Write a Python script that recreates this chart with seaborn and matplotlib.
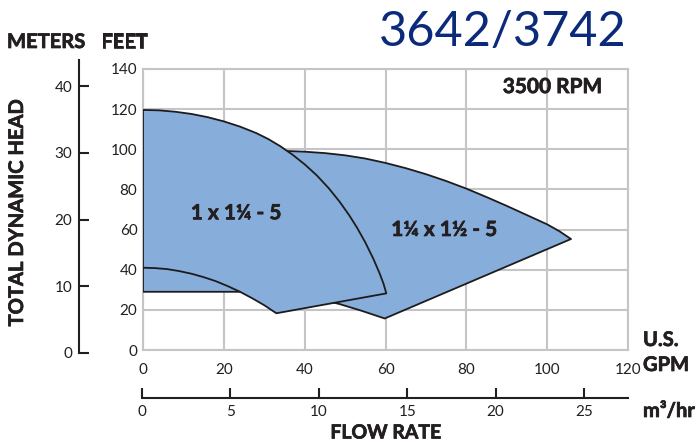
import matplotlib
matplotlib.use("Agg")
import matplotlib.pyplot as plt
import matplotlib.patheffects as pe
import seaborn as sns
import pandas as pd

# ---------------- data ----------------
gpm_ticks = [0, 20, 40, 60, 80, 100, 120]
feet_ticks = [0, 20, 40, 60, 80, 100, 120, 140]
meter_ticks = [0, 10, 20, 30, 40]
m3hr_ticks = [0, 5, 10, 15, 20, 25]

# 1 x 1 1/4 - 5 : max impeller curve (GPM, feet)
s1_top_q = [0, 4, 8, 12, 16, 20, 24, 28, 31, 34, 37, 40, 43, 46, 48.6,
            51, 53, 55, 57, 58.5, 59.5, 60.2]
s1_top_h = [119.6, 119.4, 118.7, 117.6, 116.0, 113.9, 111.3, 108.1, 105.1,
            101.5, 97.3, 92.5, 87.0, 80.5, 74.0, 67.2, 60.8, 53.6, 45.4,
            38.4, 33.1, 28.2]
# lower boundary (from end of max curve back to the left axis)
s1_low_q = [33.0, 30, 27, 24.0, 0]
s1_low_h = [18.3, 22.3, 25.8, 29.0, 29.0]
# min impeller curve (interior part)
s1_min_q = [24.0, 21, 18, 15, 12, 9, 6, 3, 0]
s1_min_h = [29.0, 31.8, 34.3, 36.3, 38.0, 39.3, 40.3, 40.8, 41.0]

# 1 1/4 x 1 1/2 - 5
s2_top_q = [30, 35, 40, 45, 50, 55, 60, 65, 70, 75, 80, 85, 90, 95, 100,
            103, 105.9]
s2_top_h = [99.3, 99.2, 98.8, 98.1, 97.0, 95.4, 93.2, 90.6, 87.6, 84.2,
            80.4, 76.2, 71.8, 67.2, 62.6, 59.2, 55.3]
s2_low_q = [59.8, 54, 48.6, 44, 40]
s2_low_h = [15.7, 19.6, 22.9, 25.2, 27.0]

labels = ["1 x 1\u00bc - 5", "1\u00bc x 1\u00bd - 5"]
label_q = [23.1, 74.6]
label_h = [68.1, 59.8]

# ---------------- style ----------------
sns.set_theme(style="white")
plt.rcParams["font.family"] = ["Lato", "DejaVu Sans"]

W, H = 697, 443
fig = plt.figure(figsize=(W / 100, H / 100), dpi=100)

def fx(px):
    return px / W

def fy(py):
    return 1 - py / H

GRID = "#c5c5c9"
TXT = "#231f20"
FILL = "#87addb"
EDGE = "#1c1c1c"
BOLD = "bold"
THICK = [pe.withStroke(linewidth=0.5, foreground=TXT)]

# ---------------- main axes ----------------
ax = fig.add_axes([fx(143), fy(350), (628 - 143) / W, (350 - 69) / H])
ax.set_xlim(0, 120)
ax.set_ylim(0, 140)
ax.set_xticks(gpm_ticks)
ax.set_yticks(feet_ticks)
ax.grid(True, color=GRID, lw=1.5)
ax.set_axisbelow(True)
for sp in ax.spines.values():
    sp.set_color(GRID)
    sp.set_linewidth(1.5)
ax.tick_params(axis="both", length=0, labelsize=11, labelcolor=TXT)
ax.tick_params(axis="x", pad=9)
ax.tick_params(axis="y", pad=4)

# shape 2 (drawn below)
s2_q = s2_top_q + s2_low_q + [s2_top_q[0]]
s2_h = s2_top_h + s2_low_h + [s2_top_h[0]]
ax.fill(s2_q, s2_h, color=FILL, zorder=2, lw=0)
df2 = pd.DataFrame({"q": s2_q, "h": s2_h})
sns.lineplot(data=df2, x="q", y="h", sort=False, estimator=None,
             color=EDGE, lw=1.3, ax=ax, zorder=2.5)

# shape 1 (drawn on top)
s1_q = s1_top_q + s1_low_q + [s1_top_q[0]]
s1_h = s1_top_h + s1_low_h + [s1_top_h[0]]
ax.fill(s1_q, s1_h, color=FILL, zorder=3, lw=0)
df1 = pd.DataFrame({"q": s1_q, "h": s1_h})
sns.lineplot(data=df1, x="q", y="h", sort=False, estimator=None,
             color=EDGE, lw=1.3, ax=ax, zorder=3.5)
dfm = pd.DataFrame({"q": s1_min_q, "h": s1_min_h})
sns.lineplot(data=dfm, x="q", y="h", sort=False, estimator=None,
             color=EDGE, lw=1.3, ax=ax, zorder=3.5)

ax.set_xlabel("")
ax.set_ylabel("")

for t, q, h in zip(labels, label_q, label_h):
    ax.text(q, h, t, ha="center", va="center", fontsize=15,
            fontweight=BOLD, color=TXT, zorder=5, path_effects=THICK)

ax.text(113.6, 131, "3500 RPM", ha="right", va="center", fontsize=15,
        fontweight=BOLD, color=TXT, zorder=5, path_effects=THICK)

# ---------------- meters axis ----------------
axm = fig.add_axes([fx(79), fy(353), 0.0005, (353 - 60) / H])
axm.set_ylim(0, (353 - 60) / 6.675)
axm.set_yticks(meter_ticks)
axm.set_xticks([])
axm.patch.set_visible(False)
for k in ["top", "right", "bottom"]:
    axm.spines[k].set_visible(False)
axm.spines["left"].set_color(TXT)
axm.spines["left"].set_linewidth(1.5)
axm.tick_params(axis="y", direction="in", length=7, width=1.5, color=TXT,
                labelsize=11, labelcolor=TXT, pad=5, left=True)

# ---------------- m3/hr axis ----------------
axq = fig.add_axes([fx(142), fy(398), (628 - 142) / W, 0.0005])
axq.set_xlim(0, (628 - 142) / 17.68)
axq.set_xticks(m3hr_ticks)
axq.set_yticks([])
axq.patch.set_visible(False)
for k in ["top", "right", "left"]:
    axq.spines[k].set_visible(False)
axq.spines["bottom"].set_color(TXT)
axq.spines["bottom"].set_linewidth(1.5)
axq.tick_params(axis="x", direction="in", length=7, width=1.5, color=TXT,
                labelsize=11, labelcolor=TXT, pad=5, bottom=True)

# ---------------- texts ----------------
fig.text(fx(627), fy(32), "3642/3742", ha="right", va="center",
         fontsize=35, color="#0c2a7a")
kw = dict(fontweight=BOLD, color=TXT, path_effects=THICK)
fig.text(fx(7), fy(42), "METERS", ha="left", va="center", fontsize=14.5, **kw)
fig.text(fx(101), fy(42), "FEET", ha="left", va="center", fontsize=14.5, **kw)
fig.text(fx(17), fy(213), "TOTAL DYNAMIC HEAD", ha="center", va="center",
         rotation=90, fontsize=14.5, **kw)
fig.text(fx(643), fy(340), "U.S.", ha="left", va="center", fontsize=14.5, **kw)
fig.text(fx(643), fy(365), "GPM", ha="left", va="center", fontsize=14.5, **kw)
fig.text(fx(643), fy(411), "m\u00b3/hr", ha="left", va="center",
         fontsize=14.5, **kw)
fig.text(fx(386), fy(433), "FLOW RATE", ha="center", va="center",
         fontsize=14, **kw)

fig.savefig("out.png", dpi=100)
